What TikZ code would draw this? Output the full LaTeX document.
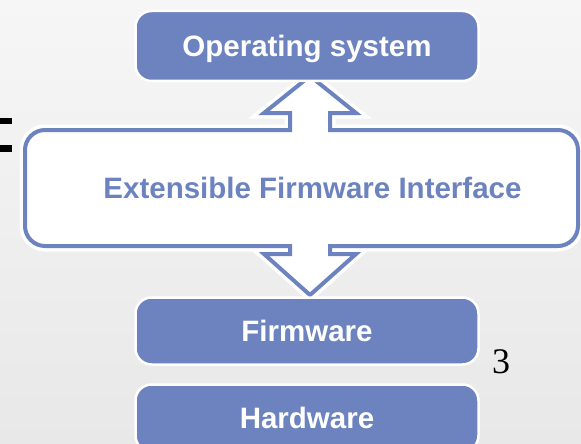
\documentclass[tikz,border=0pt]{standalone}
\usepackage{fontspec}
\setmainfont{Liberation Sans}
\newfontfamily\serifnum{Liberation Serif}
\definecolor{efiblue}{RGB}{108,131,192}
\definecolor{bgtop}{RGB}{246,246,246}
\definecolor{bgbot}{RGB}{232,232,232}
\begin{document}
\begin{tikzpicture}[x=1pt,y=-1pt,
  bluebox/.style={rectangle, rounded corners=16pt, fill=efiblue, draw=white,
    line width=2.5pt, minimum width=343pt, text=white,
    font=\bfseries\fontsize{29.5}{30}\selectfont,
    text height=21pt, text depth=0pt, inner sep=0pt},
  halo/.style={draw=white, line width=11pt, line join=miter},
  outline/.style={draw=efiblue, fill=white, line width=4pt, line join=miter}]
\useasboundingbox (0,0) rectangle (581,444);
\shade[top color=bgtop, bottom color=bgbot] (0,0) rectangle (581,444);
% fragment of a letter at the left edge
\fill[black] (0,118) rectangle (12,124);
\fill[black] (0,145) rectangle (12,152);
% EFI box with the two block arrows
\def\efishape{(25,150) .. controls (25,139) and (34,130) .. (45,130)
  -- (290,130) -- (290,113) -- (264,113) -- (310,76) -- (356,113) -- (330,113) -- (330,130)
  -- (558,130) .. controls (569,130) and (578,139) .. (578,150)
  -- (578,226) .. controls (578,237) and (569,246) .. (558,246)
  -- (330,246) -- (330,254) -- (356,254) -- (310,295) -- (264,254) -- (290,254) -- (290,246)
  -- (45,246) .. controls (34,246) and (25,237) .. (25,226) -- cycle}
\path[halo] \efishape;
\path[outline] \efishape;
% blue boxes
\node[bluebox, minimum height=70pt] (os) at (307,46) {Operating system};
\node[bluebox, minimum height=67pt] (fw) at (307,331) {Firmware};
\node[bluebox, minimum height=67pt] (hw) at (307,418) {Hardware};
\node[text=efiblue, font=\bfseries\fontsize{29.5}{30}\selectfont,
  text height=21pt, text depth=0pt, inner sep=0pt] (efi) at (312.5,188) {Extensible Firmware Interface};
% page number
\node[font=\serifnum\fontsize{36}{36}\selectfont, text height=24pt, text depth=0pt,
  inner sep=0pt] (pagenum) at (501,361) {3};
\end{tikzpicture}
\end{document}
